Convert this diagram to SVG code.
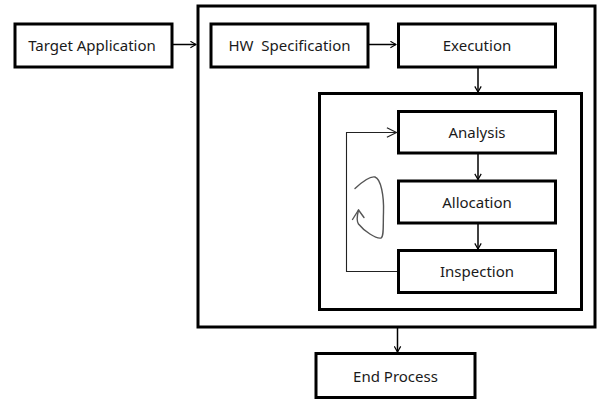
<svg xmlns="http://www.w3.org/2000/svg" width="599" height="399" viewBox="0 0 599 399">
  <style>
    .box { fill: #fff; stroke: #000; stroke-width: 3; }
    .frame { fill: none; stroke: #000; stroke-width: 3; }
    .label { font-family: "Noto Sans", "Open Sans", sans-serif; font-size: 15px; fill: #1a1a1a; text-anchor: middle; dominant-baseline: central; white-space: pre; }
    .edge { fill: none; stroke: #000; stroke-width: 1.5; }
    .thin { fill: none; stroke: #222; stroke-width: 1.1; }
    .curl { fill: none; stroke: #555; stroke-width: 1.4; stroke-linecap: round; stroke-linejoin: round; }
  </style>
  <defs>
    <marker id="open" viewBox="0 0 10 10" refX="9" refY="5" markerWidth="8" markerHeight="8" markerUnits="userSpaceOnUse" orient="auto">
      <path d="M2,1 L9,5 L2,9" fill="none" stroke="#000" stroke-width="1.5"/>
    </marker>
    <marker id="openThin" viewBox="0 0 10 10" refX="9" refY="5" markerWidth="12" markerHeight="12" markerUnits="userSpaceOnUse" orient="auto">
      <path d="M1,1 L9,5 L1,9" fill="none" stroke="#222" stroke-width="1"/>
    </marker>
  </defs>

  <!-- containers -->
  <g id="system">
    <rect class="frame" x="198" y="6" width="397" height="321"/>
  </g>
  <g id="refinement">
    <rect class="frame" x="319.5" y="93.5" width="262" height="216"/>
  </g>

  <!-- nodes -->
  <g id="target-application">
    <rect class="box" x="15" y="24" width="157" height="43"/>
    <text class="label" x="92" y="45">Target Application</text>
  </g>
  <g id="hw-specification">
    <rect class="box" x="211" y="24" width="157" height="43"/>
    <text class="label" x="289.5" y="45" xml:space="preserve">HW  Specification</text>
  </g>
  <g id="execution">
    <rect class="box" x="398.5" y="24" width="157" height="43"/>
    <text class="label" x="477" y="45">Execution</text>
  </g>
  <g id="analysis">
    <rect class="box" x="398.5" y="111.5" width="157" height="41.5"/>
    <text class="label" x="477" y="132">Analysis</text>
  </g>
  <g id="allocation">
    <rect class="box" x="398.5" y="181" width="157" height="42"/>
    <text class="label" x="477" y="202">Allocation</text>
  </g>
  <g id="inspection">
    <rect class="box" x="398.5" y="250.5" width="157" height="42"/>
    <text class="label" x="477" y="271">Inspection</text>
  </g>
  <g id="end-process">
    <rect class="box" x="316" y="353.5" width="159" height="44"/>
    <text class="label" x="395.5" y="376">End Process</text>
  </g>

  <!-- connectors -->
  <g id="connectors">
    <line class="edge" x1="172" y1="44.5" x2="196" y2="44.5" marker-end="url(#open)"/>
    <line class="edge" x1="368" y1="44.5" x2="396" y2="44.5" marker-end="url(#open)"/>
    <line class="edge" x1="478" y1="68" x2="478" y2="92" marker-end="url(#open)"/>
    <line class="edge" x1="478" y1="153" x2="478" y2="179.5" marker-end="url(#open)"/>
    <line class="edge" x1="478" y1="223" x2="478" y2="249" marker-end="url(#open)"/>
    <line class="edge" x1="397.5" y1="328" x2="397.5" y2="352" marker-end="url(#open)"/>
    <polyline class="thin" points="397,271.5 346.5,271.5 346.5,132.5 396.5,132.5" marker-end="url(#openThin)"/>
    <!-- hand-drawn repeat loop -->
    <path class="curl" d="M355,188.5 C362,182 370,176 375,177 C381,179 384,196 383.5,212 C383,226 384,237 381,238 C376,239 364,231 358.5,224 C356.5,221 357,216 358.5,210"/>
    <path class="curl" d="M352.5,219.5 L358.5,210 L364,217.5"/>
  </g>
</svg>
